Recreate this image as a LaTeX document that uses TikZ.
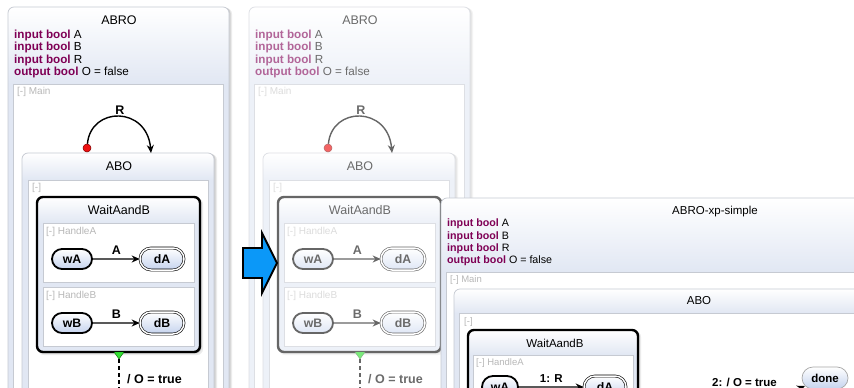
\documentclass[tikz,border=0pt]{standalone}
\usepackage{fontspec}
\setmainfont{Liberation Sans}
\usetikzlibrary{arrows.meta,shapes.misc}
\definecolor{kwpurple}{HTML}{7F0055}
\definecolor{stblue}{HTML}{C5D3EE}
\definecolor{pnblue}{HTML}{E1E7F3}
\definecolor{bordgray}{HTML}{C6CAD2}
\definecolor{lblgray}{HTML}{B8B8B8}
\definecolor{arrblue}{HTML}{0B98F8}
\definecolor{dotred}{HTML}{EE1111}
\definecolor{grn}{HTML}{33E033}

\newcommand\kfs[1]{\fontsize{#1}{#1}\selectfont}

\newcommand\kcolorsfull{%
 \colorlet{pText}{black}\colorlet{pKw}{kwpurple}\colorlet{pLine}{black}%
 \colorlet{pBorder}{bordgray}\colorlet{pLabel}{lblgray}\colorlet{pPanel}{pnblue}%
 \colorlet{pState}{stblue}\colorlet{pDot}{dotred}\colorlet{pDotB}{red!50!black}%
 \colorlet{pGreen}{grn}\colorlet{pGreenB}{green!40!black}\colorlet{pShadow}{black}}
\newcommand\kcolorsfaded{%
 \colorlet{pText}{black!58}\colorlet{pKw}{kwpurple!60}\colorlet{pLine}{black!60}%
 \colorlet{pBorder}{bordgray!60}\colorlet{pLabel}{lblgray!50}\colorlet{pPanel}{pnblue!60}%
 \colorlet{pState}{stblue!55}\colorlet{pDot}{dotred!65}\colorlet{pDotB}{red!50!black!60}%
 \colorlet{pGreen}{grn!65}\colorlet{pGreenB}{green!40!black!50}\colorlet{pShadow}{black!60}}

\tikzset{
 kregion/.style={draw=pBorder, fill=white, line width=0.7},
 klabel/.style={anchor=west, font=\kfs{10}, text=pLabel, inner sep=0},
 ktitle/.style={font=\kfs{12.5}, text=pText, inner sep=0},
 kdecl/.style={anchor=west, font=\kfs{11.7}, text=pText, inner sep=0},
 kstate/.style={rounded rectangle, draw=pLine, line width=1.8, top color=white, bottom color=pState,
   minimum width=40, minimum height=20, inner sep=0, font=\bfseries\kfs{12.3}, text=pText},
 kfinal/.style={kstate, line width=0.6, double=white, double distance=1.5, minimum width=44, minimum height=22},
 ktrans/.style={draw=pLine, line width=1.4, -{Stealth[length=8pt,width=7pt]}},
 ktlabel/.style={font=\bfseries\kfs{12.5}, text=pText, inner sep=0},
 kinit/.style={circle, fill=pDot, draw=pDotB, line width=0.5, minimum size=8, inner sep=0},
}

\newcommand\kbox[6]{%
 \fill[pShadow, opacity=0.08, rounded corners=6] (#1+1,#2+1) rectangle (#3+3,#4+3);
 \fill[pShadow, opacity=0.12, rounded corners=6] (#1+0.5,#2+0.5) rectangle (#3+1.6,#4+1.6);
 \fill[pPanel, rounded corners=6] (#1,#2) rectangle (#3,#4);
 \begin{scope}
  \clip[rounded corners=6] (#1,#2) rectangle (#3,#4);
  \shade[top color=white, bottom color=pPanel] (#1,#2) rectangle (#3,#5);
 \end{scope}
 \draw[#6, rounded corners=6] (#1,#2) rectangle (#3,#4);
}

\newcommand\kabro{%
 \kbox{8}{7}{229}{420}{84}{draw=pBorder, line width=0.7}
 \node[ktitle] (abro) at (119,20) {ABRO};
 \node[kdecl] (d1) at (14,35) {\textcolor{pKw}{\bfseries input bool} A};
 \node[kdecl] (d2) at (14,47.5) {\textcolor{pKw}{\bfseries input bool} B};
 \node[kdecl] (d3) at (14,60) {\textcolor{pKw}{\bfseries input bool} R};
 \node[kdecl] (d4) at (14,72.5) {\textcolor{pKw}{\bfseries output bool} O = false};
 \draw[kregion] (13,84) rectangle (223,420);
 \node[klabel] (lmain) at (17,92) {[-] Main};
 \kbox{22}{153}{214}{420}{180}{draw=pBorder, line width=0.7}
 \node[ktitle] (abo) at (119,166) {ABO};
 \draw[kregion] (28,180) rectangle (208,420);
 \node[klabel] (lreg) at (32,188) {[-]};
 \kbox{37}{197}{200}{352}{223}{draw=pLine, line width=2.4}
 \node[ktitle] (wab) at (119,210) {WaitAandB};
 \draw[kregion] (43,223) rectangle (194,282);
 \node[klabel] (lha) at (46,232) {[-] HandleA};
 \node[kstate] (wA) at (72,259) {wA};
 \node[kfinal] (dA) at (162,259) {dA};
 \draw[ktrans] (wA) -- node[ktlabel, above=4pt] (tA) {A} (dA);
 \draw[kregion] (43,287) rectangle (194,346);
 \node[klabel] (lhb) at (46,296) {[-] HandleB};
 \node[kstate] (wB) at (72,323) {wB};
 \node[kfinal] (dB) at (162,323) {dB};
 \draw[ktrans] (wB) -- node[ktlabel, above=4pt] (tB) {B} (dB);
 \node[kinit] (init) at (87,148) {};
 \coordinate (rin) at (151,153);
 \draw[ktrans] (init) .. controls (91,106) and (147,106) .. (rin);
 \node[ktlabel] (tR) at (120,110) {R};
 \coordinate (gtip) at (119,359);
 \filldraw[fill=pGreen, draw=pGreenB, line width=0.4] (114,352) -- (124,352) -- (gtip) -- cycle;
 \coordinate (gend) at (119,400);
 \draw[pLine, line width=1.1, dash pattern=on 4pt off 3pt] (gtip) -- (gend);
 \node[ktlabel, anchor=west] (tO) at (127,379) {/ O = true};
}

\begin{document}
\begin{tikzpicture}[x=1pt,y=-1pt]
\useasboundingbox (0,0) rectangle (854,388);
\clip (0,0) rectangle (854,388);
\fill[white] (0,0) rectangle (854,388);

\begin{scope}[name prefix=pa-]
 \kcolorsfull
 \kabro
\end{scope}

\begin{scope}[shift={(241,0)}, name prefix=pb-]
 \kcolorsfaded
 \kabro
\end{scope}

\draw[fill=arrblue, draw=black, line width=1.8, line join=miter]
 (243,248) -- (262,248) -- (262,233) -- (277,263) -- (262,293) -- (262,278) -- (243,278) -- cycle;

\begin{scope}[name prefix=pc-]
 \kcolorsfull
 \kbox{441}{198}{1000}{600}{272}{draw=pBorder, line width=0.7}
 \node[ktitle, font=\kfs{11.5}] (abro) at (715,212) {ABRO-xp-simple};
 \node[kdecl, font=\kfs{10.7}] (d1) at (447,224) {\textcolor{pKw}{\bfseries input bool} A};
 \node[kdecl, font=\kfs{10.7}] (d2) at (447,236.3) {\textcolor{pKw}{\bfseries input bool} B};
 \node[kdecl, font=\kfs{10.7}] (d3) at (447,248.6) {\textcolor{pKw}{\bfseries input bool} R};
 \node[kdecl, font=\kfs{10.7}] (d4) at (447,261) {\textcolor{pKw}{\bfseries output bool} O = false};
 \draw[kregion] (446,272) rectangle (995,600);
 \node[klabel, font=\kfs{9.5}] (lmain) at (450,280) {[-] Main};
 \kbox{454}{289}{934}{600}{313}{draw=pBorder, line width=0.7}
 \node[ktitle, font=\kfs{11.5}] (abo) at (699,301) {ABO};
 \draw[kregion] (459,313) rectangle (929,600);
 \node[klabel, font=\kfs{9.5}] (lreg) at (464,322) {[-]};
 \kbox{468}{330}{638}{600}{355}{draw=pLine, line width=2.4}
 \node[ktitle, font=\kfs{11.5}] (wab) at (555,343) {WaitAandB};
 \draw[kregion] (473,355) rectangle (633,600);
 \node[klabel, font=\kfs{9.5}] (lha) at (476,363) {[-] HandleA};
 \node[kstate, minimum width=36, minimum height=22] (wA) at (500,387) {wA};
 \node[kfinal, minimum width=42, minimum height=22] (dA) at (605,387) {dA};
 \draw[ktrans] (wA) -- node[ktlabel, font=\bfseries\kfs{11.5}, above=4pt] (t1) {1: R} (dA);
 \node[kstate, line width=0.7, draw=gray!70, minimum width=46, minimum height=22, font=\bfseries\kfs{11.5}] (done) at (825,378) {done};
 \node[ktlabel, font=\bfseries\kfs{11.5}, anchor=west] (t2) at (712,382) {2: / O = true};
 \coordinate (src) at (760,404);
 \draw[ktrans] (src) -- (done);
\end{scope}
\end{tikzpicture}
\end{document}
